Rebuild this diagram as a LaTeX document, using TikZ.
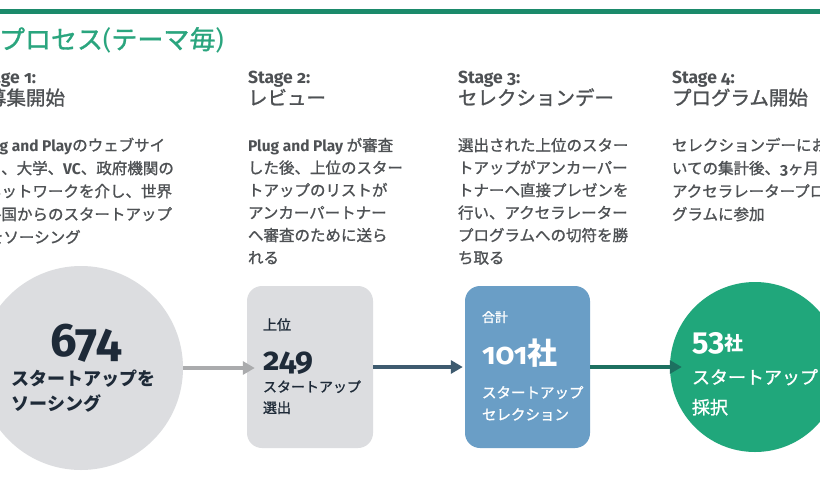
\documentclass[tikz,border=0pt]{standalone}
\usepackage{fontspec}
\setmainfont{Noto Sans CJK JP}
\newfontfamily\jpm[FakeBold=1.2]{Noto Sans CJK JP}
\newfontfamily\fira[Numbers=OldStyle]{Fira Sans}
\usetikzlibrary{arrows.meta}
\definecolor{topgreen}{HTML}{1B8A6B}
\definecolor{titlegreen}{HTML}{2AA57E}
\definecolor{txtgray}{HTML}{4E5154}
\definecolor{shapegray}{HTML}{DCDDE0}
\definecolor{navy}{HTML}{1E2A38}
\definecolor{boxblue}{HTML}{6A9EC6}
\definecolor{circgreen}{HTML}{20A77B}
\definecolor{arrgray}{HTML}{AAABAD}
\definecolor{arrslate}{HTML}{3E5B6F}
\definecolor{arrgreen}{HTML}{1D7060}
\newcommand\fsz[2]{\fontsize{#1}{#2}\selectfont}
\tikzset{
  txt/.style={anchor=base west, inner sep=0pt, outer sep=0pt},
  stagelbl/.style={txt, text=txtgray, font=\fira\bfseries\fsz{17.5}{19}},
  stagename/.style={txt, text=txtgray, font=\jpm\fsz{19.5}{21}},
  bodytxt/.style={txt, text=txtgray, font=\jpm\fsz{15.5}{17}},
  flow/.style={line width=3.5pt, -{Triangle[length=12pt,width=13pt]}},
}
\begin{document}
\begin{tikzpicture}[x=1pt,y=-1pt]
\useasboundingbox (0,0) rectangle (820,480);
\clip (0,0) rectangle (820,480);
\fill[white] (0,0) rectangle (820,480);
% top rule
\fill[topgreen] (0,9) rectangle (820,14);
% title
\node[txt, text=titlegreen, font=\jpm\fsz{26}{28}] (title) at (-1,49) {プロセス{\fira(}テーマ毎{\fira)}};

% stage headings
\node[stagelbl] (s1) at (-25,83) {Stage 1:};
\node[stagename] (n1) at (-13,105) {募集開始};
\node[stagelbl] (s2) at (248,83) {Stage 2:};
\node[stagename] (n2) at (248,105) {レビュー};
\node[stagelbl] (s3) at (458,83) {Stage 3:};
\node[stagename] (n3) at (458,105) {セレクションデー};
\node[stagelbl] (s4) at (672,83) {Stage 4:};
\node[stagename] (n4) at (672,105) {プログラム開始};

% body text
\node[bodytxt] (c1a) at (-23,151) {{\fira\bfseries Plug and Play}のウェブサイ};
\node[bodytxt] (c1b) at (-14,174) {ト、大学、{\fira\bfseries VC}、政府機関の};
\node[bodytxt] (c1c) at (-14,197) {ネットワークを介し、世界};
\node[bodytxt] (c1d) at (-14,220) {各国からのスタートアップ};
\node[bodytxt] (c1e) at (-12,243) {をソーシング};

\node[bodytxt] (c2a) at (248,151) {{\fira\bfseries Plug and Play} が審査};
\node[bodytxt] (c2b) at (248,173.5) {した後、上位のスター};
\node[bodytxt] (c2c) at (248,196) {トアップのリストが};
\node[bodytxt] (c2d) at (248,218.5) {アンカーパートナー};
\node[bodytxt] (c2e) at (248,241) {へ審査のために送ら};
\node[bodytxt] (c2f) at (248,263.5) {れる};

\node[bodytxt] (c3a) at (458,151) {選出された上位のスター};
\node[bodytxt] (c3b) at (458,173.5) {トアップがアンカーパー};
\node[bodytxt] (c3c) at (458,196) {トナーへ直接プレゼンを};
\node[bodytxt] (c3d) at (458,218.5) {行い、アクセラレーター};
\node[bodytxt] (c3e) at (458,241) {プログラムへの切符を勝};
\node[bodytxt] (c3f) at (458,263.5) {ち取る};

\node[bodytxt] (c4a) at (672,151) {セレクションデーにお};
\node[bodytxt] (c4b) at (672,174) {いての集計後、{\fira\bfseries 3}ヶ月の};
\node[bodytxt] (c4c) at (672,197) {アクセラレータープロ};
\node[bodytxt] (c4d) at (672,220) {グラムに参加};

% shapes
\node[circle, fill=shapegray, minimum size=204pt, inner sep=0pt] (c1) at (81,368) {};
\node[rectangle, rounded corners=15pt, fill=shapegray, minimum width=126pt, minimum height=162pt, inner sep=0pt] (b2) at (310,367) {};
\node[rectangle, rounded corners=15pt, fill=boxblue, minimum width=125pt, minimum height=162pt, inner sep=0pt] (b3) at (527.5,367) {};
\node[circle, fill=circgreen, minimum size=170pt, inner sep=0pt] (c4) at (755,367) {};

% connectors
\draw[flow, draw=arrgray, fill=arrgray, shorten >=-8pt] (c1.east) -- (b2.west |- c1.east);
\draw[flow, draw=arrslate, fill=arrslate, shorten >=2pt] (b2.east) -- (b3.west);
\draw[flow, draw=arrgreen, fill=arrgreen, shorten >=-12pt] (b3.east) -- (c4.west);

% circle 1 text
\node[txt, text=navy, font=\fira\bfseries\fsz{47}{49}] (v1) at (50,356) {674};
\node[txt, text=navy, font=\bfseries\fsz{18}{20}] (v1a) at (12,385) {スタートアップを};
\node[txt, text=navy, font=\bfseries\fsz{18}{20}] (v1b) at (12,410) {ソーシング};

% box 2 text
\node[txt, text=navy, font=\jpm\fsz{14}{16}] (v2t) at (263,330) {上位};
\node[txt, text=navy, font=\fira\bfseries\fsz{32}{34}] (v2) at (263,370) {249};
\node[txt, text=navy, font=\jpm\fsz{14}{16}] (v2a) at (263,392) {スタートアップ};
\node[txt, text=navy, font=\jpm\fsz{14}{16}] (v2b) at (263,413) {選出};

% box 3 text
\node[txt, text=white, font=\jpm\fsz{13}{15}] (v3t) at (482,322) {合計};
\node[txt, text=white, font=\bfseries\fsz{30}{32}] (v3) at (482,364) {{\fira 101}社};
\node[txt, text=white, font=\jpm\fsz{14.5}{16}] (v3a) at (482,398) {スタートアップ};
\node[txt, text=white, font=\jpm\fsz{14.5}{16}] (v3b) at (482,420) {セレクション};

% circle 4 text
\node[txt, text=white, font=\bfseries\fsz{31}{33}] (v4) at (692,350) {{\fira 53}{\fsz{19}{21}社}};
\node[txt, text=white, font=\jpm\fsz{18}{20}] (v4a) at (692,384) {スタートアップ};
\node[txt, text=white, font=\jpm\fsz{18}{20}] (v4b) at (692,414) {採択};
\end{tikzpicture}
\end{document}
